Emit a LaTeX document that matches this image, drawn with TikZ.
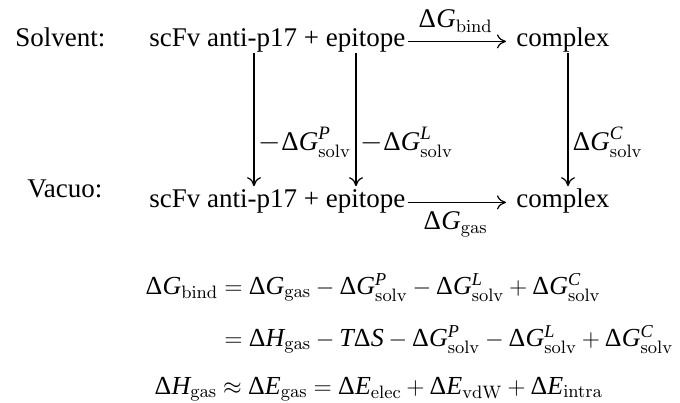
\documentclass[tikz,border=0pt]{standalone}
\usepackage{amsmath}
\usepackage{mathspec}
\setmainfont{Liberation Serif}
\setmathsfont(Digits,Latin,Greek){Liberation Serif}
\usepackage{tikz}
\usetikzlibrary{arrows.meta,positioning,calc}

\begin{document}
\begin{tikzpicture}[x=0.5pt, y=-0.5pt,
  every node/.style={font=\fontsize{13.5}{16}\selectfont},
  phase/.style={inner sep=0pt, anchor=base west},
  species/.style={inner sep=1pt, anchor=base west, text height=0.72em, text depth=0.25em},
  eqn/.style={inner sep=0pt, anchor=base west, font=\fontsize{13}{16}\selectfont,
    execute at begin node={\medmuskip=3.5mu\relax\thickmuskip=4.5mu\relax}},
  arrow/.style={-{To[length=4.5pt,width=7pt]}, line width=0.6pt}
]
\useasboundingbox (0,0) rectangle (680,402);
\node[phase] (solvent) at (15,46) {Solvent:};
\node[phase] (vacuo) at (27,197) {Vacuo:};
\node[species] (freeS) at (147,46) {scFv anti-p17 + epitope};
\node[species] (cplxS) at (514,46) {complex};
\node[species] (freeV) at (147,207) {scFv anti-p17 + epitope};
\node[species] (cplxV) at (514,207) {complex};
\coordinate (colP) at (254,0);
\coordinate (colL) at (356,0);
\coordinate (colC) at (568,0);

\draw[arrow, shorten >=4pt] (freeS.mid east) -- node[above=1pt, pos=0.45] {$\Delta G_{\mathrm{bind}}$} (cplxS.mid west);
\draw[arrow, shorten >=4pt] (freeV.mid east) -- node[below=1pt, pos=0.45] {$\Delta G_{\mathrm{gas}}$} (cplxV.mid west);
\draw[arrow, shorten >=2pt] (freeS.south -| colP) -- node[right, inner sep=2pt, pos=0.65] {$-\Delta G^{P}_{\mathrm{solv}}$} (freeV.north -| colP);
\draw[arrow, shorten >=2pt] (freeS.south -| colL) -- node[right, inner sep=2pt, pos=0.65] {$-\Delta G^{L}_{\mathrm{solv}}$} (freeV.north -| colL);
\draw[arrow, shorten >=2pt] (cplxS.south -| colC) -- node[right, inner sep=2pt, pos=0.65] {$\Delta G^{C}_{\mathrm{solv}}$} (cplxV.north -| colC);

\node[eqn] (eqA) at (145,294) {$\Delta G_{\mathrm{bind}} = \Delta G_{\mathrm{gas}} - \Delta G^{P}_{\mathrm{solv}} - \Delta G^{L}_{\mathrm{solv}} + \Delta G^{C}_{\mathrm{solv}}$};
\node[eqn] (eqB) at (145,346) {$\phantom{\Delta G_{\mathrm{bind}}} = \Delta H_{\mathrm{gas}} - T\Delta S - \Delta G^{P}_{\mathrm{solv}} - \Delta G^{L}_{\mathrm{solv}} + \Delta G^{C}_{\mathrm{solv}}$};
\node[eqn] (eqC) at (154,394) {$\Delta H_{\mathrm{gas}} \approx \Delta E_{\mathrm{gas}} = \Delta E_{\mathrm{elec}} + \Delta E_{\mathrm{vdW}} + \Delta E_{\mathrm{intra}}$};
\end{tikzpicture}
\end{document}
